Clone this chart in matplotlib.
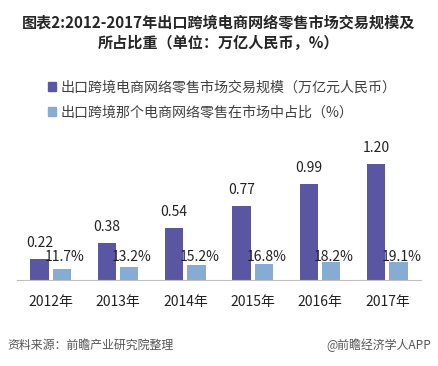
import matplotlib
matplotlib.use("Agg")
from matplotlib import pyplot as plt
from matplotlib.patches import Patch
import numpy as np

plt.rcParams['font.family'] = ['Noto Sans CJK SC', 'DejaVu Sans']

years = ["2012年", "2013年", "2014年", "2015年", "2016年", "2017年"]
scale = [0.22, 0.38, 0.54, 0.77, 0.99, 1.20]          # 万亿元人民币
share = [11.7, 13.2, 15.2, 16.8, 18.2, 19.1]          # %

scale_name = "出口跨境电商网络零售市场交易规模（万亿元人民币）"
share_name = "出口跨境那个电商网络零售在市场中占比（%）"

dark = '#5b56a1'
light = '#86acd3'
text_col = '#404040'

fig = plt.figure(figsize=(4.38, 3.66), dpi=100)
ax = fig.add_axes([0.0388, 0.235, 0.9224, 0.3825])

x = np.arange(len(years))
w = 0.27
share_frac = [s / 100 for s in share]
ax.bar(x - 0.165, scale, width=w, color=dark)
ax.bar(x + 0.165, share_frac, width=w, color=light)

for xi, v in zip(x, scale):
    ax.annotate(f"{v:.2f}", (xi - 0.165, v), xytext=(0, 8.5), textcoords='offset points',
                ha='center', va='baseline', fontsize=10, color='#222222')
for xi, s in zip(x, share):
    ax.annotate(f"{s:.1f}%", (xi + 0.165, 0.196), xytext=(2, 0), textcoords='offset points',
                ha='center', va='baseline', fontsize=10, color='#222222')

ax.set_xlim(-0.5, len(years) - 0.5)
ax.set_ylim(0, 1.448)
ax.set_xticks(x)
ax.set_xticklabels(years, fontsize=10, color='#222222')
ax.tick_params(axis='x', length=0, pad=11)
ax.set_yticks([])
for side in ['top', 'right', 'left']:
    ax.spines[side].set_visible(False)
ax.spines['bottom'].set_color('#bfbfbf')

handles = [Patch(color=dark), Patch(color=light)]
fig.legend(handles, [scale_name, share_name], loc='upper left',
           bbox_to_anchor=(0.081, 0.815), frameon=False, fontsize=10.1,
           handlelength=0.55, handleheight=0.55, handletextpad=0.35,
           labelspacing=0.8, labelcolor=text_col)

fig.text(0.5, 0.96, "图表2:2012-2017年出口跨境电商网络零售市场交易规模及\n所占比重（单位：万亿人民币，%）",
         ha='center', va='top', fontsize=10.9, fontweight='bold', color='#262626',
         linespacing=1.3)

fig.text(0.016, 0.057, "资料来源：前瞻产业研究院整理", ha='left', va='center',
         fontsize=8.6, style='italic', color='#555555')
fig.text(0.985, 0.057, "@前瞻经济学人APP", ha='right', va='center',
         fontsize=8.6, color='#555555')

fig.savefig("out.png", dpi=100)
